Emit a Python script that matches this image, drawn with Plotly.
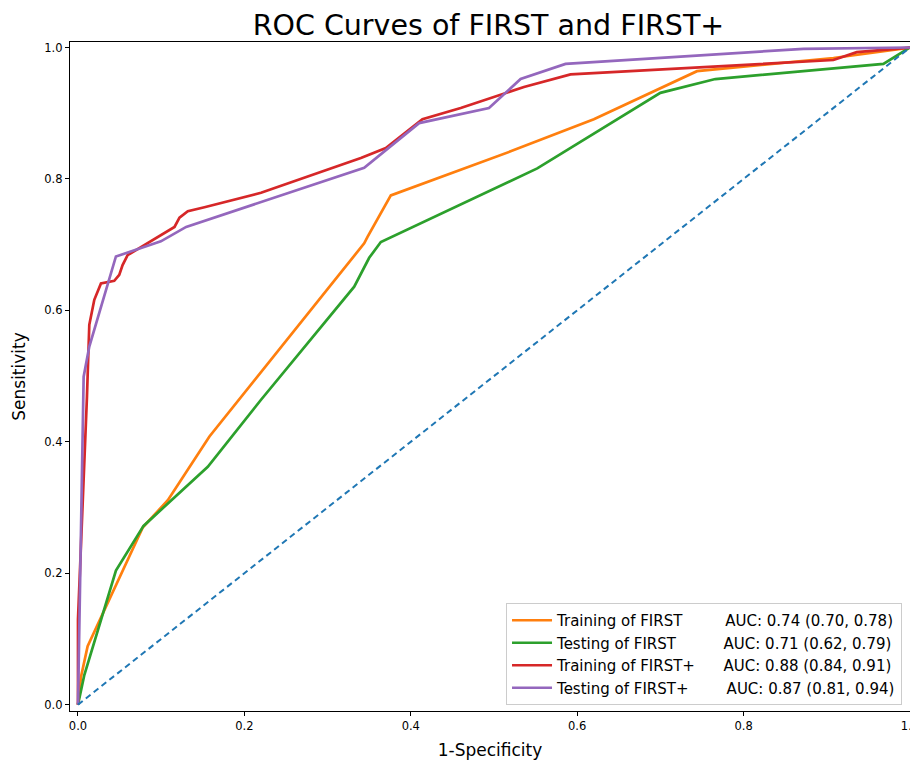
import plotly.graph_objects as go

NBSP = "\u00a0"

# Training of FIRST (orange)
train_first_fpr = [0.0, 0.0036, 0.0116, 0.078, 0.108, 0.158, 0.344, 0.348, 0.376, 0.46, 0.52, 0.62, 0.70, 0.744, 0.908, 1.0]
train_first_tpr = [0.0, 0.042, 0.089, 0.27, 0.311, 0.408, 0.702, 0.712, 0.775, 0.814, 0.842, 0.891, 0.938, 0.964, 0.984, 1.0]

# Testing of FIRST (green)
test_first_fpr = [0.0, 0.0076, 0.0456, 0.0788, 0.156, 0.22, 0.332, 0.35, 0.364, 0.46, 0.552, 0.70, 0.766, 0.968, 1.0]
test_first_tpr = [0.0, 0.045, 0.204, 0.272, 0.362, 0.464, 0.636, 0.68, 0.704, 0.761, 0.816, 0.931, 0.952, 0.975, 1.0]

# Training of FIRST+ (red)
train_plus_fpr = [0.0, 0.0, 0.0108, 0.0136, 0.0196, 0.0276, 0.0436, 0.0496, 0.0536, 0.0596, 0.116, 0.122, 0.132, 0.152, 0.22, 0.34, 0.37, 0.414, 0.46, 0.536, 0.592, 0.908, 0.936, 1.0]
train_plus_tpr = [0.0, 0.13, 0.469, 0.578, 0.616, 0.641, 0.645, 0.654, 0.669, 0.684, 0.727, 0.741, 0.751, 0.757, 0.779, 0.832, 0.847, 0.891, 0.908, 0.940, 0.959, 0.981, 0.993, 1.0]

# Testing of FIRST+ (purple)
test_plus_fpr = [0.0, 0.0068, 0.0136, 0.0456, 0.0996, 0.13, 0.344, 0.41, 0.494, 0.532, 0.586, 0.872, 1.0]
test_plus_tpr = [0.0, 0.499, 0.545, 0.682, 0.705, 0.727, 0.817, 0.885, 0.908, 0.952, 0.975, 0.998, 1.0]

names = ["Training of FIRST", "Testing of FIRST", "Training of FIRST+", "Testing of FIRST+"]
auc_texts = ["AUC: 0.74 (0.70, 0.78)", "AUC: 0.71 (0.62, 0.79)", "AUC: 0.88 (0.84, 0.91)", "AUC: 0.87 (0.81, 0.94)"]
pads = [9, 10, 6, 8]
colors = ["#ff7f0e", "#2ca02c", "#d62728", "#9467bd"]
tick_vals = [0, 0.2, 0.4, 0.6, 0.8, 1.0]
tick_text = ["0.0", "0.2", "0.4", "0.6", "0.8", "1.0"]

series = [
    (train_first_fpr, train_first_tpr),
    (test_first_fpr, test_first_tpr),
    (train_plus_fpr, train_plus_tpr),
    (test_plus_fpr, test_plus_tpr),
]

fig = go.Figure()
for (fx, fy), nm, auc, pad, col in zip(series, names, auc_texts, pads, colors):
    fig.add_trace(go.Scatter(
        x=fx, y=fy, mode="lines",
        name=nm + NBSP * pad + auc,
        line=dict(color=col, width=2.7),
    ))

fig.add_trace(go.Scatter(
    x=[0, 1], y=[0, 1], mode="lines", showlegend=False,
    line=dict(color="#1f77b4", width=2, dash="6px,4px"),
))

# page body has an 8px default margin, so the figure is sized/offset to compensate
fig.update_layout(
    width=910, height=752,
    margin=dict(l=62, r=8, t=34, b=49),
    paper_bgcolor="white", plot_bgcolor="white",
    font=dict(family="DejaVu Sans", color="black"),
    title=dict(text="ROC Curves of FIRST and FIRST+", x=0.528, xanchor="center",
               y=0.977, yanchor="middle", font=dict(size=28.5)),
    legend=dict(x=0.9905, y=0.009, xanchor="right", yanchor="bottom",
                bgcolor="rgba(255,255,255,0.8)", bordercolor="#cccccc", borderwidth=1,
                font=dict(size=15), tracegroupgap=0, itemwidth=40),
    xaxis=dict(range=[-0.0096, 1.0], tickvals=tick_vals, ticktext=tick_text,
               showgrid=False, zeroline=False, showline=True, linecolor="black",
               linewidth=1.2, mirror=True, ticks="outside", ticklen=4, tickcolor="black",
               tickfont=dict(size=11.5), automargin=False, ticklabeloverflow="allow",
               title=dict(text="1-Specificity", font=dict(size=17), standoff=14)),
    yaxis=dict(range=[-0.0097, 1.0084], tickvals=tick_vals, ticktext=tick_text,
               showgrid=False, zeroline=False, showline=True, linecolor="black",
               linewidth=1.2, mirror=True, ticks="outside", ticklen=4, tickcolor="black",
               tickfont=dict(size=11.5), automargin=False, ticklabeloverflow="allow",
               title=dict(text="Sensitivity", font=dict(size=17), standoff=14)),
)

fig.write_html("out.html")
